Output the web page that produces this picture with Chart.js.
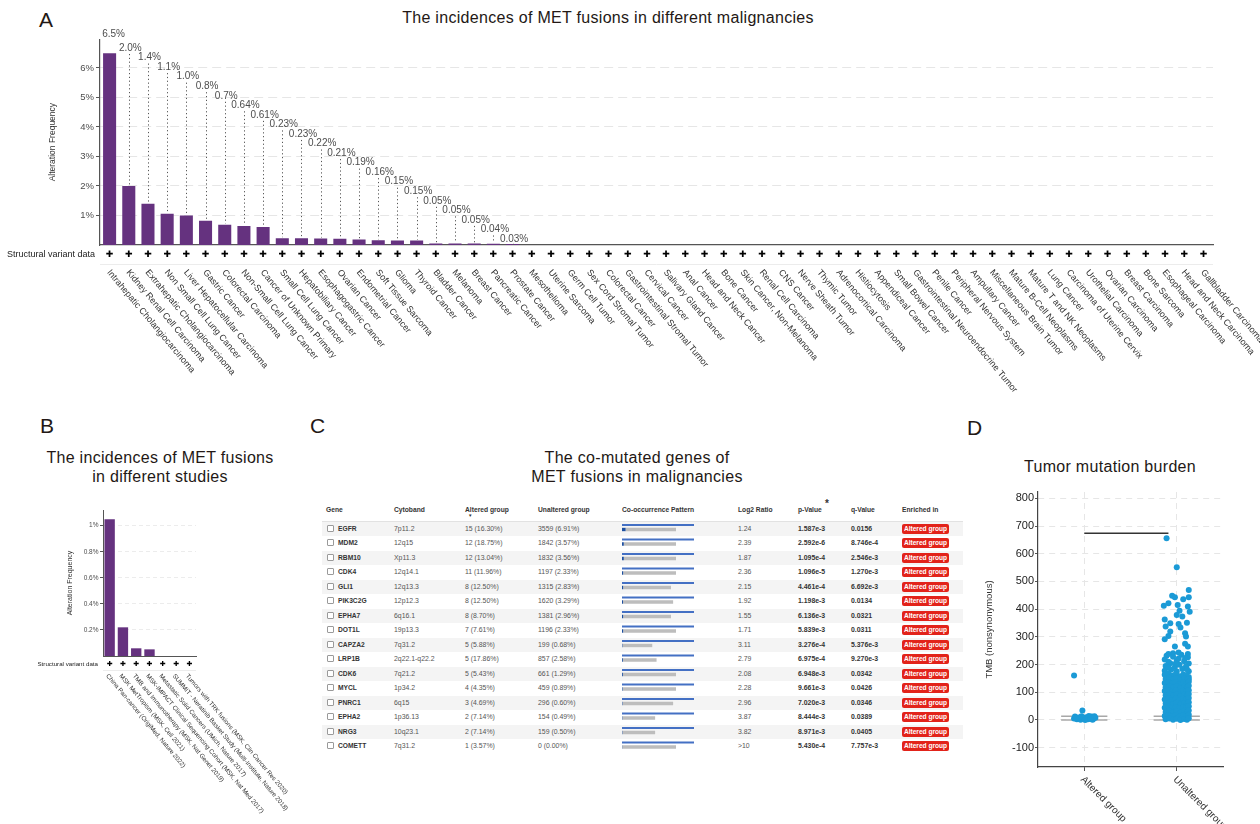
<!DOCTYPE html>
<html>
<head>
<meta charset="utf-8">
<title>MET fusions</title>
<script src="https://cdn.jsdelivr.net/npm/chart.js@4.4.1/dist/chart.umd.min.js"></script>
<style>
html,body{margin:0;padding:0;background:#fff}
body{width:1260px;height:824px;position:relative;overflow:hidden;font-family:"Liberation Sans",Arial,Helvetica,sans-serif}
.abs{position:absolute}
.letter{font-size:21px;line-height:21px;color:#231815}
.ttl{font-size:16px;line-height:19px;color:#231815;text-align:center;letter-spacing:0.3px;white-space:nowrap}
canvas{display:block}
#tbl{position:absolute;left:322px;top:497px;width:641px;border-collapse:collapse;table-layout:fixed;font-family:"Liberation Sans",Arial,Helvetica,sans-serif}
#tbl th{height:24.7px;padding:0 0 0 4px;text-align:left;font-weight:bold;font-size:6.7px;color:#333;vertical-align:middle;white-space:nowrap;position:relative;background:linear-gradient(to top,#e2e2e2 0,#e2e2e2 1.5px,#fff 1.5px)}
#tbl td{height:14.5px;padding:0 0 0 4px;font-size:6.9px;color:#555;line-height:14.5px;white-space:nowrap;overflow:hidden}
#tbl tbody tr:nth-child(odd) td{background:#f4f4f4}
#tbl td.g{padding-left:5px;color:#333;font-weight:bold;font-size:6.7px}
#tbl td.b{font-weight:bold;color:#333}
.cb{display:inline-block;width:5px;height:5px;border:0.8px solid #9a9a9a;border-radius:1px;vertical-align:middle;margin:-1.5px 4px 0 0;background:#fff}
.badge{display:inline-block;width:47px;height:10px;line-height:10px;background:#e2231a;color:#fff;font-weight:bold;font-size:6.6px;text-align:center;border-radius:2px;vertical-align:middle}
.arrow{position:absolute;left:7px;top:16px;font-size:4.5px;color:#333}
.ast{position:absolute;left:31px;top:1px;font-size:10px;color:#333;font-weight:bold}
</style>
</head>
<body>
<div class="abs letter" style="left:39px;top:9.3px">A</div>
<div class="abs ttl" style="left:308px;top:8px;width:600px">The incidences of MET fusions in different malignancies</div>
<canvas id="cA" class="abs" width="1260" height="400" style="left:0;top:0"></canvas>

<div class="abs letter" style="left:40px;top:415.3px">B</div>
<div class="abs ttl" style="left:10px;top:448px;width:300px">The incidences of MET fusions<br>in different studies</div>
<canvas id="cB" class="abs" width="300" height="334" style="left:0;top:490px"></canvas>

<div class="abs letter" style="left:310px;top:415.3px">C</div>
<div class="abs ttl" style="left:487px;top:447.5px;width:300px">The co-mutated genes of<br>MET fusions in malignancies</div>
<table id="tbl"></table>
<canvas id="cC" class="abs" width="72" height="232" style="left:622px;top:520.45px"></canvas>

<div class="abs letter" style="left:967px;top:417.3px">D</div>
<div class="abs ttl" style="left:960px;top:456.5px;width:300px">Tumor mutation burden</div>
<canvas id="cD" class="abs" width="300" height="344" style="left:960px;top:480px"></canvas>

<script>
// ---------------- DATA ----------------
// Panel A: incidence of MET fusions per malignancy (%)
const mfCategories = ['Intrahepatic Cholangiocarcinoma','Kidney Renal Cell Carcinoma','Extrahepatic Cholangiocarcinoma','Non Small Cell Lung Cancer','Liver Hepatocellular Carcinoma','Gastric Cancer','Colorectal Carcinoma','Non-Small Cell Lung Cancer','Cancer of Unknown Primary','Small Cell Lung Cancer','Hepatobiliary Cancer','Esophagogastric Cancer','Ovarian Cancer','Endometrial Cancer','Soft Tissue Sarcoma','Glioma','Thyroid Cancer','Bladder Cancer','Melanoma','Breast Cancer','Pancreatic Cancer','Prostate Cancer','Mesothelioma','Uterine Sarcoma','Germ Cell Tumor','Sex Cord Stromal Tumor','Colorectal Cancer','Gastrointestinal Stromal Tumor','Cervical Cancer','Salivary Gland Cancer','Anal Cancer','Head and Neck Cancer','Bone Cancer','Skin Cancer, Non-Melanoma','Renal Cell Carcinoma','CNS Cancer','Nerve Sheath Tumor','Thymic Tumor','Adrenocortical Carcinoma','Histiocytosis','Appendiceal Cancer','Small Bowel Cancer','Gastrointestinal Neuroendocrine Tumor','Penile Cancer','Peripheral Nervous System','Ampullary Cancer','Miscellaneous Brain Tumor','Mature B-Cell Neoplasms','Mature T and NK Neoplasms','Lung Cancer','Carcinoma of Uterine Cervix','Urothelial Carcinoma','Ovarian Carcinoma','Breast Carcinoma','Bone Sarcoma','Esophageal Carcinoma','Head and Neck Carcinoma','Gallbladder Carcinoma'];
const mfValues = [6.5,2.0,1.4,1.06,1.0,0.82,0.69,0.64,0.61,0.23,0.23,0.22,0.21,0.19,0.16,0.15,0.15,0.05,0.05,0.05,0.04,0.03,0,0,0,0,0,0,0,0,0,0,0,0,0,0,0,0,0,0,0,0,0,0,0,0,0,0,0,0,0,0,0,0,0,0,0,0];
const mfLabels = ['6.5%','2.0%','1.4%','1.1%','1.0%','0.8%','0.7%','0.64%','0.61%','0.23%','0.23%','0.22%','0.21%','0.19%','0.16%','0.15%','0.15%','0.05%','0.05%','0.05%','0.04%','0.03%'];
const mfTicks = [1,2,3,4,5,6];

// Panel B: incidence per study (%)
const studyCategories = ['China Pan-cancer (OrigiMed, Nature 2022)','MSK MetTropism (MSK, Cell 2021)','TMB and Immunotherapy (MSK, Nat Genet 2019)','MSK-IMPACT Clinical Sequencing Cohort (MSK, Nat Med 2017)','Metastatic Solid Cancers (UMich, Nature 2017)','SUMMIT - Neratinib Basket Study (Multi-Institute, Nature 2018)','Tumors with TRK fusions (MSK, Clin Cancer Res 2020)'];
const studyValues = [1.05,0.22,0.059,0.051,0,0,0];
const studyTicks = [0.2,0.4,0.6,0.8,1];

// Panel C: co-mutated genes table
const genes = ['EGFR','MDM2','RBM10','CDK4','GLI1','PIK3C2G','EPHA7','DOT1L','CAPZA2','LRP1B','CDK6','MYCL','PNRC1','EPHA2','NRG3','COMETT'];
const cytobands = ['7p11.2','12q15','Xp11.3','12q14.1','12q13.3','12p12.3','6q16.1','19p13.3','7q31.2','2q22.1-q22.2','7q21.2','1p34.2','6q15','1p36.13','10q23.1','7q31.2'];
const alteredGroup = ['15 (16.30%)','12 (18.75%)','12 (13.04%)','11 (11.96%)','8 (12.50%)','8 (12.50%)','8 (8.70%)','7 (7.61%)','5 (5.88%)','5 (17.86%)','5 (5.43%)','4 (4.35%)','3 (4.69%)','2 (7.14%)','2 (7.14%)','1 (3.57%)'];
const unalteredGroup = ['3559 (6.91%)','1842 (3.57%)','1832 (3.56%)','1197 (2.33%)','1315 (2.83%)','1620 (3.29%)','1381 (2.96%)','1196 (2.33%)','199 (0.68%)','857 (2.58%)','661 (1.29%)','459 (0.89%)','296 (0.60%)','154 (0.49%)','159 (0.50%)','0 (0.00%)'];
const log2Ratio = ['1.24','2.39','1.87','2.36','2.15','1.92','1.55','1.71','3.11','2.79','2.08','2.28','2.96','3.87','3.82','>10'];
const pValues = ['1.587e-3','2.592e-6','1.095e-4','1.096e-5','4.461e-4','1.198e-3','6.136e-3','5.839e-3','3.276e-4','6.975e-4','6.948e-3','9.661e-3','7.020e-3','8.444e-3','8.971e-3','5.430e-4'];
const qValues = ['0.0156','8.746e-4','2.546e-3','1.270e-3','6.692e-3','0.0134','0.0321','0.0311','5.376e-3','9.270e-3','0.0342','0.0426','0.0346','0.0389','0.0405','7.757e-3'];
const enrichedIn = 'Altered group';
// co-occurrence pattern glyph (share of glyph width, %)
const patternTrack = [100,100,100,100,100,100,100,100,100,100,100,100,100,100,100,100];
const patternBoth = [5,2.5,2.5,1.6,1.6,1.4,1.6,1.6,0.6,1.2,1.2,0.8,0.6,0.5,0.5,0.3];
const patternGray = [75,75,75,75,68,71,68,75,42,48,75,75,71,46,46,75];

// Panel D: TMB (nonsynonymous), [jitter, value]
const tmbGroups = ['Altered group','Unaltered group'];
const alteredPoints = [[-0.11,160],[-0.02,34],[-0.11,5],[-0.08,2],[-0.06,9],[-0.04,1],[-0.02,6],[0.0,3],[0.02,10],[0.04,2],[0.06,7],[0.08,12],[0.10,4],[0.12,8],[-0.10,12],[0.05,14],[0.09,1],[-0.03,13],[0.11,13],[0.01,0],[0.07,3],[-0.09,8]];
const unalteredPoints = [
 [-0.11,656],[0.0,551],[0.13,469],[0.13,443],[-0.05,448],[-0.02,443],[-0.14,412],[-0.09,421],[0.01,415],[0.07,436],[0.12,410],[0.03,394],[0.0,379],[0.06,373],[0.14,391],[-0.13,363],[-0.07,349],[-0.12,337],[0.02,346],[0.04,334],[0.11,351],[-0.07,319],[-0.09,303],[-0.13,291],[0.09,313],[0.10,301],[-0.02,265],[0.09,275],[0.12,265],[-0.04,241],[-0.09,238],[0.02,243],[0.12,238],
 [-0.11,232],[-0.04,228],[0.05,235],[0.12,226],[-0.13,218],[0.0,214],[0.08,212],[-0.07,205],[0.13,204],[0.03,199],[-0.12,195],[-0.02,191],[0.10,193],[0.06,184],[-0.06,182],[-0.13,178],[0.13,176],[0.0,175],[-0.09,188],[0.11,183],[0.02,222],[-0.01,204],[0.09,224],[-0.09,210],
 [-0.13,163],[-0.09,168],[-0.05,160],[-0.01,166],[0.03,158],[0.07,164],[0.10,161],[0.13,155],
 [-0.12,148],[-0.08,152],[-0.04,146],[0.0,150],[0.04,144],[0.08,149],[0.11,143],[0.13,147],
 [-0.13,133],[-0.09,137],[-0.05,131],[-0.01,136],[0.03,130],[0.07,135],[0.10,129],[0.13,138],
 [-0.12,118],[-0.08,122],[-0.04,116],[0.0,121],[0.04,115],[0.08,120],[0.11,117],[0.13,123],
 [-0.13,104],[-0.09,108],[-0.05,101],[-0.01,106],[0.03,100],[0.07,105],[0.10,102],[0.13,107],
 [-0.12,89],[-0.08,93],[-0.04,87],[0.0,92],[0.04,86],[0.08,91],[0.11,88],[0.13,94],
 [-0.13,74],[-0.09,78],[-0.05,72],[-0.01,77],[0.03,71],[0.07,76],[0.10,73],[0.13,79],
 [-0.12,59],[-0.08,63],[-0.04,57],[0.0,62],[0.04,56],[0.08,61],[0.11,58],[0.13,64],
 [-0.13,44],[-0.09,48],[-0.05,42],[-0.01,47],[0.03,41],[0.07,46],[0.10,43],[0.13,49],
 [-0.12,29],[-0.08,33],[-0.04,27],[0.0,32],[0.04,26],[0.08,31],[0.11,28],[0.13,34],
 [-0.13,14],[-0.09,18],[-0.05,12],[-0.01,17],[0.03,11],[0.07,16],[0.10,13],[0.13,19],
 [-0.12,2],[-0.08,5],[-0.04,1],[0.0,4],[0.04,0],[0.08,3],[0.11,1],[0.13,6]
];
const tmbRefLines = [0,13];
const sigLineX = [0,0.91];
const sigLineY = 674;
const tmbTicks = [-100,0,100,200,300,400,500,600,700,800];

// ---------------- HELPERS ----------------
const FONT = '"Liberation Sans", Arial, Helvetica, sans-serif';
const PURPLE = '#65327f';

function drawCategoryFooter(chart, cats, o) {
  const {ctx, scales: {x}} = chart;
  ctx.save();
  ctx.font = o.rowFont + 'px ' + FONT;
  ctx.fillStyle = '#222';
  ctx.textAlign = 'right';
  ctx.textBaseline = 'middle';
  ctx.fillText('Structural variant data', o.rowLabelX, o.rowY);
  ctx.strokeStyle = '#ececec';
  ctx.lineWidth = 1;
  ctx.beginPath();
  ctx.moveTo(chart.chartArea.left, o.lineY + 0.5);
  ctx.lineTo(chart.chartArea.right, o.lineY + 0.5);
  ctx.stroke();
  ctx.font = 'bold ' + o.plusFont + 'px "DejaVu Sans", sans-serif';
  ctx.fillStyle = '#000';
  ctx.textAlign = 'center';
  cats.forEach((c, i) => ctx.fillText('\u271A', x.getPixelForValue(i), o.rowY));
  ctx.font = o.labelFont + 'px ' + FONT;
  ctx.fillStyle = '#333';
  ctx.textAlign = 'left';
  cats.forEach((c, i) => {
    ctx.save();
    ctx.translate(x.getPixelForValue(i) + o.dx, o.labelY);
    ctx.rotate(o.angle * Math.PI / 180);
    ctx.fillText(c, 0, 0);
    ctx.restore();
  });
  ctx.restore();
}

// ---------------- PANEL A ----------------
const panelAPlugin = {
  id: 'panelA',
  afterDraw(chart) {
    const {ctx, scales: {x, y}} = chart;
    ctx.save();
    ctx.font = '10px ' + FONT;
    ctx.fillStyle = '#4d4d4d';
    ctx.textAlign = 'center';
    ctx.textBaseline = 'middle';
    mfLabels.forEach((lab, i) => {
      const px = x.getPixelForValue(i);
      const ly = i === 0 ? 34 : 48 + (i - 1) * 9.55;
      ctx.fillText(lab, px + (i === 0 ? 4 : 1.5), ly);
      if (i > 0) {
        ctx.save();
        ctx.strokeStyle = '#555';
        ctx.lineWidth = 1;
        ctx.setLineDash([1.2, 2.6]);
        const lx = Math.round(px) + 0.5;
        ctx.beginPath();
        ctx.moveTo(lx, ly + 6);
        ctx.lineTo(lx, y.getPixelForValue(mfValues[i]) - 1);
        ctx.stroke();
        ctx.restore();
      }
    });
    ctx.restore();
    drawCategoryFooter(chart, mfCategories, {rowFont: 9, rowLabelX: 95, rowY: 255, lineY: 264, plusFont: 9, labelFont: 9, dx: -1, labelY: 271, angle: 50});
  }
};

new Chart(document.getElementById('cA'), {
  type: 'bar',
  data: {labels: mfCategories, datasets: [{data: mfValues, backgroundColor: PURPLE, barPercentage: 0.68, categoryPercentage: 1}]},
  options: {
    responsive: false, animation: false, devicePixelRatio: 1,
    layout: {padding: {top: 39.3, right: 47, left: 0, bottom: 0}},
    plugins: {legend: {display: false}, tooltip: {enabled: false}},
    scales: {
      x: {type: 'category', offset: true, ticks: {display: false}, grid: {display: false, drawTicks: false}, border: {color: '#555', width: 1.2}, afterFit(s) { s.height = 155; }},
      y: {min: 0, max: 6.97,
        afterBuildTicks(s) { s.ticks = mfTicks.map(v => ({value: v})); },
        ticks: {callback: v => v + '%', font: {size: 9.5, family: FONT}, color: '#4d4d4d', padding: 2},
        grid: {color: '#e6e6e6', tickColor: '#555', tickLength: 4, tickBorderDash: []},
        border: {color: '#555', width: 1.2, dash: [9, 5]},
        title: {display: true, text: 'Alteration Frequency', font: {size: 8.5, family: FONT}, color: '#333', padding: {top: 47.9, bottom: 0}},
        afterFit(s) { s.width = 100; }}
    }
  },
  plugins: [panelAPlugin]
});

// ---------------- PANEL B ----------------
new Chart(document.getElementById('cB'), {
  type: 'bar',
  data: {labels: studyCategories, datasets: [{data: studyValues, backgroundColor: PURPLE, barPercentage: 0.78, categoryPercentage: 1}]},
  options: {
    responsive: false, animation: false, devicePixelRatio: 1,
    layout: {padding: {top: 20, right: 104, left: 0, bottom: 0}},
    plugins: {legend: {display: false}, tooltip: {enabled: false}},
    scales: {
      x: {type: 'category', offset: true, ticks: {display: false}, grid: {display: false, drawTicks: false}, border: {color: '#555', width: 1}, afterFit(s) { s.height = 168; }},
      y: {min: 0, max: 1.12,
        afterBuildTicks(s) { s.ticks = studyTicks.map(v => ({value: v})); },
        ticks: {callback: v => v + '%', font: {size: 6.5, family: FONT}, color: '#4d4d4d', padding: 1.5},
        grid: {color: '#ececec', tickColor: '#555', tickLength: 3, tickBorderDash: []},
        border: {color: '#555', width: 1, dash: [4, 3]},
        title: {display: true, text: 'Alteration Frequency', font: {size: 7, family: FONT}, color: '#333', padding: {top: 65.8, bottom: 0}},
        afterFit(s) { s.width = 103; }}
    }
  },
  plugins: [{id: 'panelB', afterDraw(chart) {
    drawCategoryFooter(chart, studyCategories, {rowFont: 6.2, rowLabelX: 98, rowY: 174, lineY: 180, plusFont: 7, labelFont: 6.3, dx: -2.5, labelY: 185, angle: 50});
  }}]
});

// ---------------- PANEL C ----------------
(function buildTable() {
  const headers = ['Gene','Cytoband','Altered group','Unaltered group','Co-occurrence Pattern','Log2 Ratio','p-Value','q-Value','Enriched in'];
  const widths = [68,71,73,84,116,60,53,51,65];
  let h = '<colgroup>' + widths.map(w => '<col style="width:' + w + 'px">').join('') + '</colgroup><thead><tr>';
  headers.forEach((t, i) => {
    let extra = '';
    if (i === 2) extra = '<span class="arrow">\u25BC</span>';
    if (i === 6) extra = '<span class="ast">*</span>';
    h += '<th' + (i === 0 ? ' style="padding-left:4px"' : '') + '>' + t + extra + '</th>';
  });
  h += '</tr></thead><tbody>';
  genes.forEach((g, i) => {
    h += '<tr>' +
      '<td class="g"><span class="cb"></span>' + g + '</td>' +
      '<td>' + cytobands[i] + '</td>' +
      '<td>' + alteredGroup[i] + '</td>' +
      '<td>' + unalteredGroup[i] + '</td>' +
      '<td></td>' +
      '<td>' + log2Ratio[i].replace('>', '&gt;') + '</td>' +
      '<td class="b">' + pValues[i] + '</td>' +
      '<td class="b">' + qValues[i] + '</td>' +
      '<td><span class="badge">' + enrichedIn + '</span></td></tr>';
  });
  h += '</tbody>';
  document.getElementById('tbl').innerHTML = h;
})();

new Chart(document.getElementById('cC'), {
  type: 'bar',
  data: {
    labels: genes,
    datasets: [
      {data: patternTrack, stack: 'top', backgroundColor: '#4470c4', barPercentage: 0.44, categoryPercentage: 0.62},
      {data: patternBoth, stack: 'bottom', backgroundColor: '#1d4f9f', barPercentage: 0.75, categoryPercentage: 0.62},
      {data: patternGray.map((v, i) => v - patternBoth[i]), stack: 'bottom', backgroundColor: '#bdbdbd', barPercentage: 0.75, categoryPercentage: 0.62}
    ]
  },
  options: {
    indexAxis: 'y', responsive: false, animation: false, devicePixelRatio: 1,
    layout: {padding: 0},
    plugins: {legend: {display: false}, tooltip: {enabled: false}},
    scales: {
      y: {display: false},
      x: {display: false, min: 0, max: 100}
    }
  }
});

// ---------------- PANEL D ----------------
const dDatasets = [];
tmbGroups.forEach((g, gi) => {
  tmbRefLines.forEach(v => {
    dDatasets.push({type: 'line', data: [{x: gi - 0.25, y: v}, {x: gi + 0.25, y: v}], borderColor: '#a8a8a8', borderWidth: 1.5, pointRadius: 0, order: 3});
  });
});
dDatasets.push({data: alteredPoints.map(p => ({x: 0 + p[0], y: p[1]})), pointRadius: 3, pointBackgroundColor: '#1b9ad6', pointBorderWidth: 0, order: 2});
dDatasets.push({data: unalteredPoints.map(p => ({x: 1 + p[0], y: p[1]})), pointRadius: 3, pointBackgroundColor: '#1b9ad6', pointBorderWidth: 0, order: 2});
dDatasets.push({type: 'line', data: sigLineX.map(x => ({x: x, y: sigLineY})), borderColor: '#333', borderWidth: 1.3, pointRadius: 0, order: 1});

new Chart(document.getElementById('cD'), {
  type: 'scatter',
  data: {datasets: dDatasets},
  options: {
    responsive: false, animation: false, devicePixelRatio: 1,
    layout: {padding: {top: 12, right: 37, left: 0, bottom: 0}},
    plugins: {legend: {display: false}, tooltip: {enabled: false}},
    scales: {
      x: {type: 'linear', min: -0.5, max: 1.5,
        afterBuildTicks(s) { s.ticks = tmbGroups.map((g, i) => ({value: i})); },
        ticks: {display: false},
        grid: {color: '#e6e6e6', tickColor: '#555', tickLength: 4, tickBorderDash: []},
        border: {color: '#444', width: 1.2, dash: [6, 5]},
        afterFit(s) { s.height = 57; }},
      y: {min: -170, max: 823,
        afterBuildTicks(s) { s.ticks = tmbTicks.map(v => ({value: v})); },
        ticks: {font: {size: 11, family: FONT}, color: '#222', padding: 1},
        grid: {color: '#e6e6e6', tickColor: '#555', tickLength: 3, tickBorderDash: []},
        border: {color: '#444', width: 1.2, dash: [6, 5]},
        title: {display: true, text: 'TMB (nonsynonymous)', font: {size: 9.5, family: FONT}, color: '#333', padding: {top: 23.3, bottom: 0}},
        afterFit(s) { s.width = 78; }}
    }
  },
  plugins: [{id: 'panelD', afterDraw(chart) {
    const {ctx, scales: {x}} = chart;
    ctx.save();
    ctx.font = '10px ' + FONT;
    ctx.fillStyle = '#333';
    ctx.textAlign = 'left';
    ctx.textBaseline = 'middle';
    tmbGroups.forEach((g, i) => {
      ctx.save();
      ctx.translate(x.getPixelForValue(i) - 2, 298);
      ctx.rotate(45 * Math.PI / 180);
      ctx.fillText(g, 0, 0);
      ctx.restore();
    });
    ctx.restore();
  }}]
});
</script>
</body>
</html>
